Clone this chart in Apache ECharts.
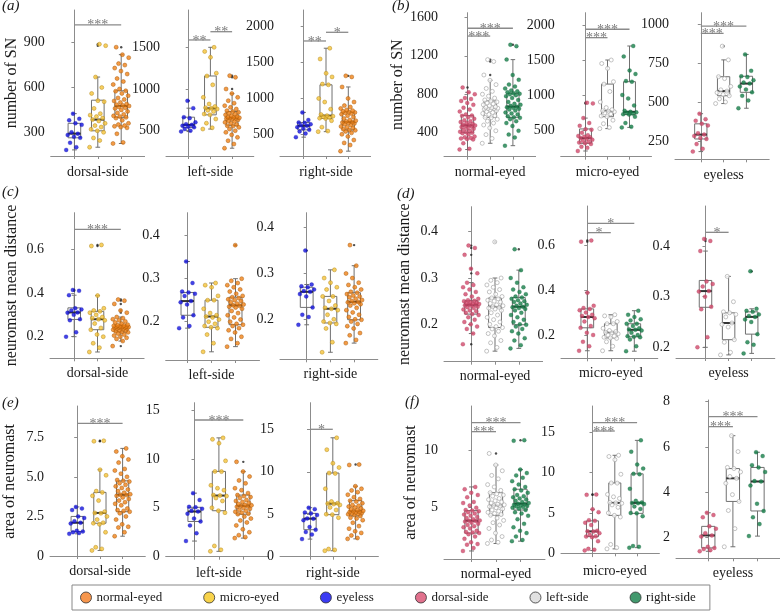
<!DOCTYPE html>
<html><head><meta charset="utf-8">
<script src="https://cdn.jsdelivr.net/npm/echarts@6/dist/echarts.min.js"></script>
<style>html,body{margin:0;padding:0;background:#fff}#c{width:780px;height:614px}</style>
</head><body><div id="c"></div>
<script>
// ================= DATA =================
const morphLabels = ['normal-eyed', 'micro-eyed', 'eyeless'];
const sideLabels = ['dorsal-side', 'left-side', 'right-side'];
const measureLabels = ['number of SN', 'neuromast mean distance', 'area of neuromast'];

// box stats [min, Q1, median, Q3, max] for dorsal, left, right
const snBoxNormal  = [[225,400,476,578,820],[290,560,652,730,945],[265,560,671,810,1160]];
const snBoxMicro   = [[200,310,385,515,670],[520,690,768,1156,1500],[537,720,760,1190,1700]];
const snBoxEyeless = [[182,263,291,360,425],[490,540,570,662,770],[460,562,618,665,805]];
const snOutNormal  = [[870],[1000,1140,1160],[1315]];
const snOutMicro   = [[880,890],[],[]];
const snOutEyeless = [[],[858],[]];
const snPtsNormal = [
 [225,232,290,330,335,340,345,352,360,380,395,400,405,410,420,430,440,450,460,465,470,476,480,485,490,500,510,520,530,545,560,575,578,590,620,640,660,690,710,730,750,760,800,820,870],
 [290,340,380,420,450,480,500,520,540,555,560,575,590,600,610,620,630,640,645,650,652,655,660,665,670,680,690,700,710,720,730,740,760,780,800,830,860,900,945,1000,1140,1160],
 [265,350,380,420,470,500,520,540,555,560,570,590,600,610,630,640,650,660,665,671,680,690,700,720,740,760,780,790,800,805,810,820,830,840,860,880,900,950,1000,1160,1300,1315]];
const snPtsMicro = [
 [200,245,262,300,310,320,335,345,360,376,385,395,405,415,425,460,505,512,560,600,670,880,890],
 [520,535,590,640,690,700,730,745,760,768,775,790,820,900,1050,1156,1190,1380,1450,1500],
 [537,545,600,690,720,725,735,745,752,760,775,850,950,1000,1190,1200,1300,1350,1550,1700]];
const snPtsEyeless = [
 [182,200,230,263,270,282,291,300,350,360,380,390,425],
 [490,500,520,540,548,560,570,578,600,650,662,770,858],
 [460,510,540,562,580,600,618,625,640,660,665,700,805]];

const distBoxNormal  = [[0.18,0.222,0.242,0.251,0.29],[0.142,0.193,0.238,0.257,0.30],[0.148,0.199,0.238,0.258,0.317]];
const distBoxMicro   = [[0.13,0.232,0.28,0.316,0.388],[0.13,0.187,0.212,0.25,0.29],[0.128,0.192,0.223,0.25,0.308]];
const distBoxEyeless = [[0.20,0.279,0.311,0.332,0.39],[0.185,0.215,0.248,0.268,0.34],[0.188,0.226,0.26,0.27,0.276]];
const distOutNormal  = [[0.157,0.31,0.32,0.35,0.365,0.37],[0.378],[0.362]];
const distOutMicro   = [[0.615,0.62],[],[]];
const distOutEyeless = [[0.41,0.414],[],[0.35]];
const distPtsNormal = [
 [0.157,0.18,0.19,0.195,0.20,0.205,0.21,0.215,0.22,0.222,0.225,0.228,0.23,0.232,0.235,0.237,0.238,0.24,0.241,0.242,0.243,0.244,0.245,0.246,0.247,0.248,0.25,0.251,0.252,0.255,0.26,0.265,0.27,0.275,0.28,0.285,0.29,0.31,0.32,0.35,0.365,0.37],
 [0.142,0.15,0.16,0.165,0.175,0.18,0.185,0.19,0.193,0.195,0.20,0.205,0.21,0.215,0.22,0.225,0.23,0.233,0.235,0.237,0.238,0.24,0.242,0.245,0.248,0.25,0.252,0.255,0.257,0.26,0.265,0.27,0.275,0.28,0.285,0.29,0.295,0.30,0.378],
 [0.148,0.155,0.165,0.17,0.18,0.185,0.19,0.195,0.199,0.20,0.205,0.21,0.215,0.22,0.225,0.23,0.233,0.235,0.237,0.238,0.24,0.242,0.245,0.248,0.25,0.252,0.255,0.258,0.26,0.265,0.27,0.275,0.28,0.29,0.30,0.317,0.362]];
const distPtsMicro = [
 [0.13,0.15,0.17,0.20,0.21,0.232,0.24,0.26,0.275,0.28,0.285,0.29,0.30,0.31,0.316,0.32,0.33,0.388,0.615,0.62],
 [0.13,0.15,0.17,0.185,0.187,0.19,0.195,0.20,0.205,0.21,0.212,0.215,0.22,0.23,0.25,0.25,0.26,0.28,0.285,0.29],
 [0.128,0.15,0.18,0.19,0.192,0.195,0.20,0.21,0.22,0.223,0.225,0.23,0.24,0.25,0.25,0.265,0.27,0.28,0.29,0.308]];
const distPtsEyeless = [
 [0.20,0.22,0.275,0.28,0.30,0.31,0.311,0.32,0.325,0.33,0.39,0.41,0.414],
 [0.185,0.19,0.21,0.215,0.24,0.245,0.248,0.26,0.265,0.268,0.27,0.29,0.34],
 [0.188,0.205,0.21,0.226,0.25,0.255,0.26,0.262,0.265,0.27,0.272,0.276,0.35]];

const areaBoxNormal  = [[1.25,2.8,3.87,4.75,6.8],[1.9,4.35,5.2,6.3,8.7],[2.1,4.8,5.35,6.6,8.3]];
const areaBoxMicro   = [[0.35,2.07,2.72,4.02,5.45],[0.55,4.7,6.25,8.72,12.15],[0.7,4.95,6.25,9.85,14.0]];
const areaBoxEyeless = [[1.4,1.55,2.1,2.5,3.1],[1.6,3.6,4.62,5.05,6.5],[2.07,3.18,4.48,5.1,5.77]];
const areaOutNormal  = [[],[9.7],[10.85]];
const areaOutMicro   = [[7.25,7.28],[],[]];
const areaOutEyeless = [[],[],[]];
const areaPtsNormal = [
 [1.25,1.5,1.8,1.85,2.0,2.3,2.5,2.7,2.8,2.85,2.9,3.0,3.2,3.3,3.4,3.5,3.6,3.7,3.8,3.85,3.87,3.9,4.0,4.1,4.2,4.3,4.4,4.5,4.6,4.7,4.75,4.8,5.0,5.2,5.4,5.5,5.9,6.1,6.3,6.6,6.8],
 [1.9,2.0,2.2,2.5,2.8,3.2,3.5,3.7,3.9,4.1,4.35,4.4,4.5,4.6,4.7,4.8,4.9,5.0,5.1,5.15,5.2,5.25,5.3,5.4,5.5,5.6,5.7,5.8,6.0,6.1,6.2,6.3,6.5,6.8,7.0,7.5,7.8,8.2,8.7,9.7],
 [2.1,2.2,2.5,2.8,3.0,3.3,3.6,4.0,4.3,4.5,4.6,4.8,4.9,5.0,5.05,5.1,5.15,5.2,5.25,5.3,5.35,5.4,5.5,5.6,5.7,5.8,5.9,6.0,6.1,6.3,6.5,6.6,6.8,7.0,7.3,7.6,7.8,8.0,8.3,10.8,10.85]];
const areaPtsMicro = [
 [0.35,0.45,0.55,1.5,2.0,2.07,2.1,2.3,2.5,2.7,2.72,2.8,3.5,3.8,4.02,4.1,5.1,5.45,7.25,7.28],
 [0.55,0.7,1.1,4.5,4.7,5.0,5.7,6.0,6.2,6.25,6.3,6.8,7.0,7.3,8.7,8.72,9.8,11.6,12.0,12.15],
 [0.7,0.8,0.9,4.6,4.95,5.0,5.5,5.8,6.1,6.2,6.25,6.3,6.5,8.0,9.8,9.85,10.5,11.0,12.6,14.0]];
const areaPtsEyeless = [
 [1.4,1.45,1.5,1.55,1.6,2.05,2.1,2.2,2.4,2.5,2.9,3.0,3.1],
 [1.6,2.4,3.2,3.6,3.9,4.4,4.62,4.7,4.9,5.05,5.1,5.8,6.5],
 [2.07,2.6,2.9,3.18,3.5,4.3,4.48,4.5,4.9,5.1,5.2,5.6,5.77]];

// significance annotations [groupA, groupB, level, stars]
const sigSideSN   = [[[0,2,1020,'***']], [[0,1,1588,'**'],[1,2,1687,'**']], [[0,1,1801,'**'],[1,2,1922,'*']]];
const sigSideDist = [[[0,2,0.6915,'***']], [], []];
const sigSideArea = [[[0,2,8.38,'***']], [[0,2,13.98,'***']], [[0,1,15.0,'*']]];
const sigMorphSN   = [[[0,1,1405,'***'],[0,2,1486,'***']], [[0,1,1819,'***'],[0,2,1939,'***']], [[0,1,940,'***'],[0,2,987,'***']]];
const sigMorphDist = [[], [[0,1,0.655,'*'],[0,2,0.696,'*']], [[0,1,0.427,'*']]];
const sigMorphArea = [[[0,1,11.59,'***'],[0,2,12.37,'***']], [[0,1,15.16,'***'],[0,2,16.19,'***']], [[0,1,6.90,'***'],[0,2,7.34,'***']]];

// tick labels
const ticksSide = [[[300,600,900],[500,1000,1500],[500,1000,1500,2000]],
                   [[0.2,0.4,0.6],[0.2,0.3,0.4],[0.2,0.3,0.4]],
                   [[0,2.5,5,7.5],[0,5,10,15],[0,5,10,15]]];
const ticksMorph = [[[400,800,1200,1600],[500,1000,1500,2000],[250,500,750,1000]],
                    [[0.2,0.3,0.4],[0.2,0.4,0.6],[0.2,0.3,0.4]],
                    [[5,10],[0,5,10,15],[2,4,6,8]]];

// ================= LAYOUT / STYLE =================
const FONT = 'Liberation Serif';
// [left, firstCenter, spacing, top, bottom, refVal1, refPx1, refVal2, refPx2]
const layoutSide = [
 [[50.7,74.4,23.4,10,156,900,42.7,300,132.3],[166,188.7,21.7,10,156,1500,47.3,500,130.7],[280,303.7,22.3,10,156,2000,26.7,500,134.3]],
 [[50,74.2,23.3,212.7,358.3,0.6,249.3,0.2,336.7],[165.7,187.5,24,212.7,360,0.4,235.7,0.2,321.7],[280,306.7,23.7,212.7,359.3,0.4,227.7,0.2,319.3]],
 [[50,77.2,22.7,406,556.7,7.5,437.3,0,556],[165.7,194.5,24.4,402.7,558,15,410,0,556.7],[280,310,22.8,402.7,558,15,429.3,0,556.7]]];
const layoutMorph = [
 [[444,467.5,22.7,12.7,156.7,1600,17.3,400,132.7],[560.7,585.5,22,12.7,156.7,2000,25,500,130],[675,700.8,22.8,12.7,159.3,1000,24,250,141]],
 [[444,471.2,23.8,206.7,361.7,0.4,231.7,0.2,324.3],[561,587.3,23.5,206,358.3,0.6,245,0.2,335],[676,705.5,23.1,206,358,0.4,246,0.2,347.3]],
 [[444,471.5,24.5,406,559,10,450,5,507.7],[561,592.5,22.3,406,556.7,15,432.3,0,553.3],[676,708.3,24.6,400,558.3,8,401.7,2,537.7]]];
const nameGapSide = [30, 30, 32], nameGapMorph = [33, 31, 25];
const labelMargin = [9, 8, 8];

const groupStyle = {
 'normal-eyed': {color:'#F08218', borderColor:'#A65A0C', borderWidth:0.6},
 'micro-eyed':  {color:'#F5C338', borderColor:'#B48A1E', borderWidth:0.6},
 'eyeless':     {color:'#1414E0', borderColor:'#0A0A9A', borderWidth:0.3},
 'dorsal-side': {color:'#D24A6C', borderColor:'#9E2F4D', borderWidth:0.3},
 'left-side':   {color:'#FFFFFF', borderColor:'#A0A0A0', borderWidth:0.8},
 'right-side':  {color:'#17804A', borderColor:'#0C5A32', borderWidth:0.3}
};
const legendColor = {'normal-eyed':'#F47C20','micro-eyed':'#F6C81E','eyeless':'#0A0AF0','dorsal-side':'#DA4E70','left-side':'#DADADA','right-side':'#14804A'};

const MEAS = [
 {box:{normal:snBoxNormal,micro:snBoxMicro,eyeless:snBoxEyeless}, out:{normal:snOutNormal,micro:snOutMicro,eyeless:snOutEyeless}, pts:{normal:snPtsNormal,micro:snPtsMicro,eyeless:snPtsEyeless}, sigS:sigSideSN, sigM:sigMorphSN},
 {box:{normal:distBoxNormal,micro:distBoxMicro,eyeless:distBoxEyeless}, out:{normal:distOutNormal,micro:distOutMicro,eyeless:distOutEyeless}, pts:{normal:distPtsNormal,micro:distPtsMicro,eyeless:distPtsEyeless}, sigS:sigSideDist, sigM:sigMorphDist},
 {box:{normal:areaBoxNormal,micro:areaBoxMicro,eyeless:areaBoxEyeless}, out:{normal:areaOutNormal,micro:areaOutMicro,eyeless:areaOutEyeless}, pts:{normal:areaPtsNormal,micro:areaPtsMicro,eyeless:areaPtsEyeless}, sigS:sigSideArea, sigM:sigMorphArea}
];
const morphKey = {'normal-eyed':'normal','micro-eyed':'micro','eyeless':'eyeless'};

function jit(i){ return (((i * 0.6180339887) % 1) - 0.5) * 0.7; }

function renderBox(params, api){
  const x = api.value(0);
  const lo = api.coord([x, api.value(1)]), q1 = api.coord([x, api.value(2)]), md = api.coord([x, api.value(3)]);
  const q3 = api.coord([x, api.value(4)]), hi = api.coord([x, api.value(5)]);
  const hw = api.size([0.27, 0])[0], cw = api.size([0.1, 0])[0];
  const cx = lo[0];
  const st = {stroke:'#707070', lineWidth:1};
  return {type:'group', children:[
    {type:'line', shape:{x1:cx,y1:hi[1],x2:cx,y2:q3[1]}, style:st},
    {type:'line', shape:{x1:cx,y1:q1[1],x2:cx,y2:lo[1]}, style:st},
    {type:'line', shape:{x1:cx-cw,y1:hi[1],x2:cx+cw,y2:hi[1]}, style:st},
    {type:'line', shape:{x1:cx-cw,y1:lo[1],x2:cx+cw,y2:lo[1]}, style:st},
    {type:'rect', shape:{x:cx-hw,y:q3[1],width:2*hw,height:q1[1]-q3[1]}, style:{stroke:'#707070',lineWidth:1,fill:'rgba(0,0,0,0)'}},
    {type:'line', shape:{x1:cx-hw,y1:md[1],x2:cx+hw,y2:md[1]}, style:{stroke:'#333',lineWidth:2}}
  ]};
}
function makeSigRender(list){
  return function(params, api){
    const a = api.coord([api.value(0), api.value(2)]), b = api.coord([api.value(1), api.value(2)]);
    return {type:'group', children:[
      {type:'line', shape:{x1:a[0],y1:a[1],x2:b[0],y2:b[1]}, style:{stroke:'#8a8a8a',lineWidth:1.3}},
      {type:'text', x:(a[0]+b[0])/2, y:a[1]+1, style:{text:list[params.dataIndex][3], fill:'#7a7a7a', font:'14px "'+FONT+'"', align:'center', verticalAlign:'middle'}}
    ]};
  };
}

const grids = [], xAxes = [], yAxes = [], series = [];
function addPanel(lay, groups, getBox, getPts, getOut, xLabel, ticks, sig, yName, nameGap, margin, fmt){
  const [L, c1, s, T, B, v1, p1, v2, p2] = lay;
  const k = (v1 - v2) / (p2 - p1);
  const yMax = v1 + (p1 - T) * k, yMin = v2 - (B - p2) * k;
  const g = (c1 - L) / s, r = 1.0;
  const gi = grids.length;
  grids.push({left:L, top:T, width:(g + 2 + r) * s, height:B - T, outerBoundsMode:'none', containLabel:false});
  const axisCol = '#8c8c8c';
  xAxes.push({gridIndex:gi, type:'value', min:-g, max:2 + r,
    axisLine:{show:true, lineStyle:{color:axisCol, width:1}},
    axisTick:{show:true, customValues:[0,1,2], length:3, lineStyle:{color:axisCol}},
    axisLabel:{customValues:[1], formatter:function(){return xLabel;}, margin:margin, fontFamily:FONT, fontSize:14, color:'#1a1a1a'},
    splitLine:{show:false}});
  const ya = {gridIndex:gi, type:'value', min:yMin, max:yMax,
    axisLine:{show:true, lineStyle:{color:axisCol, width:1}},
    axisTick:{show:true, customValues:ticks, length:3, lineStyle:{color:axisCol}},
    axisLabel:{customValues:ticks, margin:6, fontFamily:FONT, fontSize:14, color:'#1a1a1a', formatter:fmt || function(v){return String(v);}},
    splitLine:{show:false}};
  if (yName){ Object.assign(ya, {name:yName, nameLocation:'middle', nameGap:nameGap, nameTextStyle:{fontFamily:FONT, fontSize:16, color:'#1a1a1a'}}); }
  yAxes.push(ya);
  series.push({type:'custom', xAxisIndex:gi, yAxisIndex:gi, silent:true, z:2, encode:{x:0, y:[1,5]},
    renderItem:renderBox, data:groups.map((gn, i) => [i].concat(getBox(gn)))});
  const outs = [];
  groups.forEach((gn, i) => getOut(gn).forEach(v => outs.push([i, v])));
  series.push({type:'scatter', name:'outlier', xAxisIndex:gi, yAxisIndex:gi, silent:true, z:3, symbolSize:2.4, itemStyle:{color:'#222'}, data:outs});
  groups.forEach((gn, i) => {
    series.push({type:'scatter', name:gn, xAxisIndex:gi, yAxisIndex:gi, silent:true, z:4, symbol:'circle', symbolSize:4,
      itemStyle:groupStyle[gn], data:getPts(gn).map((v, j) => [i + jit(j), v])});
  });
  if (sig.length){
    series.push({type:'custom', xAxisIndex:gi, yAxisIndex:gi, silent:true, z:5, encode:{x:[0,1], y:2},
      renderItem:makeSigRender(sig), data:sig.map(d => [d[0], d[1], d[2]])});
  }
}

const sideGroups = ['eyeless', 'micro-eyed', 'normal-eyed'];
for (let m = 0; m < 3; m++){
  const D = MEAS[m];
  for (let sj = 0; sj < 3; sj++){
    addPanel(layoutSide[m][sj], sideGroups,
      gn => D.box[morphKey[gn]][sj], gn => D.pts[morphKey[gn]][sj], gn => D.out[morphKey[gn]][sj],
      sideLabels[sj], ticksSide[m][sj], D.sigS[sj], sj === 0 ? measureLabels[m] : null, nameGapSide[m], labelMargin[m],
      m === 2 && sj === 0 ? (v => v === 0 ? '0' : v.toFixed(1)) : null);
  }
  for (let k = 0; k < 3; k++){
    const mk = morphKey[morphLabels[k]];
    addPanel(layoutMorph[m][k], sideLabels,
      gn => D.box[mk][sideLabels.indexOf(gn)], gn => D.pts[mk][sideLabels.indexOf(gn)], gn => D.out[mk][sideLabels.indexOf(gn)],
      morphLabels[k], ticksMorph[m][k], D.sigM[k], k === 0 ? measureLabels[m] : null, nameGapMorph[m], labelMargin[m], null);
  }
}

const legendNames = ['normal-eyed','micro-eyed','eyeless','dorsal-side','left-side','right-side'];
const panelTags = [['(a)',2,7],['(b)',392,7],['(c)',2,193],['(d)',397,195],['(e)',2,404],['(f)',405,403]];

const chart = echarts.init(document.getElementById('c'), null, {renderer:'canvas'});
chart.setOption({
  animation:false,
  backgroundColor:'#ffffff',
  grid:grids, xAxis:xAxes, yAxis:yAxes, series:series,
  legend:{left:72, top:585, orient:'horizontal', selectedMode:false, itemWidth:11, itemHeight:11, itemGap:41,
    padding:[6,14,6,8], borderColor:'#888', borderWidth:1,
    textStyle:{fontFamily:FONT, fontSize:13, color:'#1a1a1a'},
    data:legendNames.map(n => ({name:n, icon:'circle', itemStyle:{color:legendColor[n], borderColor:'#333', borderWidth:1}}))},
  graphic:panelTags.map(t => ({type:'text', left:t[1], top:t[2] - 8, silent:true,
    style:{text:t[0], font:'italic 15px "'+FONT+'"', fill:'#1a1a1a'}}))
});
</script></body></html>
